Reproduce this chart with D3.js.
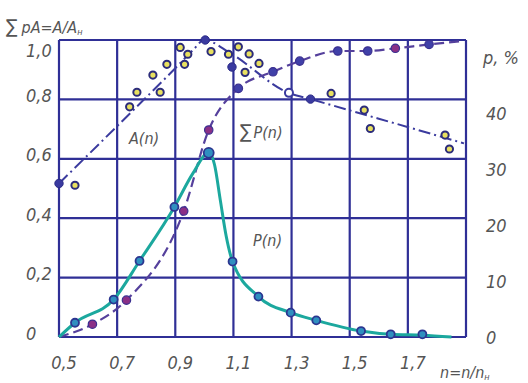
<!DOCTYPE html>
<html><head><meta charset="utf-8">
<script src="https://cdn.jsdelivr.net/npm/d3@7"></script>
<style>
body{margin:0;background:#fff;}
text{font-family:"DejaVu Sans Condensed","DejaVu Sans",sans-serif;font-style:italic;fill:#555;}
</style></head>
<body><svg id="c" width="528" height="383"></svg>
<script>
// ---- data ----
const xTicks = [0.5, 0.7, 0.9, 1.1, 1.3, 1.5, 1.7];
const yTicks = [0, 0.2, 0.4, 0.6, 0.8, 1.0];
const rTicks = [0, 10, 20, 30, 40];

// P(n), percent (right axis)
const pX = [0.555, 0.688, 0.777, 0.897, 1.015, 1.097, 1.186, 1.297, 1.385, 1.539, 1.641, 1.75];
const pY = [2.4, 6.3, 12.8, 21.9, 31.0, 12.7, 6.8, 4.1, 2.8, 1.0, 0.45, 0.45];
// P(n) fitted curve
const pCurveX = [0.5, 0.555, 0.688, 0.777, 0.897, 0.96, 1.015, 1.035, 1.055, 1.075, 1.097, 1.186, 1.297, 1.385, 1.539, 1.641, 1.75, 1.85];
const pCurveY = [0, 2.4, 6.3, 12.8, 21.9, 27.5, 31.0, 29.0, 23.0, 17.0, 12.7, 6.8, 4.1, 2.8, 1.0, 0.45, 0.3, 0];

// ΣP(n), fraction (left axis)
const sX = [0.615, 0.732, 0.929, 1.015, 1.117, 1.236, 1.328, 1.459, 1.562, 1.657, 1.773];
const sY = [0.043, 0.124, 0.424, 0.697, 0.837, 0.893, 0.929, 0.963, 0.963, 0.972, 0.985];
const sLineX = [0.5, 0.615, 0.732, 0.929, 1.015, 1.117, 1.236, 1.328, 1.459, 1.562, 1.657, 1.773, 1.893];
const sLineY = [0, 0.043, 0.124, 0.424, 0.697, 0.837, 0.893, 0.929, 0.963, 0.963, 0.972, 0.985, 0.997];

// A(n): experimental points (open circles)
const aX = [0.555, 0.743, 0.768, 0.823, 0.848, 0.871, 0.917, 0.943, 0.932, 1.023, 1.083, 1.117, 1.154, 1.188, 1.140, 1.436, 1.550, 1.571, 1.828, 1.843];
const aY = [0.511, 0.775, 0.824, 0.882, 0.824, 0.918, 0.975, 0.952, 0.918, 0.961, 0.952, 0.977, 0.953, 0.921, 0.891, 0.820, 0.764, 0.702, 0.680, 0.633];
// A(n): filled points
const aFX = [0.5, 1.003, 1.095, 1.365];
const aFY = [0.517, 1.0, 0.909, 0.801];
// A(n) fitted line
const aLineX = [0.5, 0.7, 0.9, 0.96, 1.0, 1.09, 1.29, 1.365, 1.6, 1.893];
const aLineY = [0.517, 0.71, 0.905, 0.965, 1.0, 0.955, 0.822, 0.801, 0.735, 0.652];
const aOpenX = [1.291];
const aOpenY = [0.822];

// ---- drawing ----
const svg = d3.select("#c");
const x = d3.scaleLinear([0.5, 1.9], [59, 466]);
const y = d3.scaleLinear([0, 1], [337, 40]);
const yR = d3.scaleLinear([0, 50], [337, 40]);
const yRLabel = d3.scaleLinear([0, 50], [337, 57]);
const gridC = "#2f2f96";
const fmt = v => d3.format(".1f")(v).replace(".", ",");

// grid
const g = svg.append("g");
g.selectAll("line.v").data(xTicks.concat([1.9])).join("line")
  .attr("x1", d => x(d)).attr("x2", d => x(d)).attr("y1", y(1)).attr("y2", y(0))
  .attr("stroke", gridC).attr("stroke-width", 2.2);
g.selectAll("line.h").data(yTicks).join("line")
  .attr("x1", x(0.5)).attr("x2", x(1.9)).attr("y1", d => y(d)).attr("y2", d => y(d))
  .attr("stroke", gridC).attr("stroke-width", 2.2);

// axis labels
svg.selectAll("text.xl").data(xTicks).join("text")
  .attr("x", d => x(d) + 5).attr("y", 362).attr("text-anchor", "middle")
  .attr("dominant-baseline", "central").attr("font-size", 18)
  .text(d => fmt(d));
svg.selectAll("text.yl").data(yTicks).join("text")
  .attr("x", 26).attr("y", d => Math.max(y(d) - 4, 50)).attr("text-anchor", "start")
  .attr("dominant-baseline", "central").attr("font-size", 18)
  .text(d => d === 0 ? "0" : fmt(d));
svg.selectAll("text.rl").data(rTicks).join("text")
  .attr("x", 486).attr("y", d => yRLabel(d)).attr("text-anchor", "start")
  .attr("dominant-baseline", "central").attr("font-size", 18)
  .text(d => d);
svg.append("text").attr("x", 483).attr("y", yRLabel(50)).attr("dominant-baseline", "central")
  .attr("font-size", 18).text("р, %");

// titles
const t = svg.append("text").attr("x", 6).attr("y", 33).attr("font-size", 16);
t.append("tspan").attr("font-style", "normal").attr("font-size", 19).text("∑");
t.append("tspan").attr("dx", 4).text("pA=A/A");
t.append("tspan").attr("font-size", 9).attr("dy", 2).text("н");

const xt = svg.append("text").attr("x", 440).attr("y", 378).attr("font-size", 16);
xt.append("tspan").text("n=n/n");
xt.append("tspan").attr("font-size", 9).attr("dy", 2).text("н");

svg.append("text").attr("x", 129).attr("y", 144).attr("font-size", 16).text("A(n)");
const sp = svg.append("text").attr("x", 240).attr("y", 138).attr("font-size", 16);
sp.append("tspan").attr("font-style", "normal").attr("font-size", 19).text("∑");
sp.append("tspan").attr("dx", 2).text("P(n)");
svg.append("text").attr("x", 253).attr("y", 246).attr("font-size", 16).text("P(n)");

// A(n) line
const lineL = d3.line().x(d => x(d[0])).y(d => y(d[1])).curve(d3.curveMonotoneX);
svg.append("path").datum(d3.zip(aLineX, aLineY)).attr("d", lineL)
  .attr("fill", "none").attr("stroke", "#3b3b9e").attr("stroke-width", 2)
  .attr("stroke-dasharray", "12,4,2,4");

// ΣP line
svg.append("path").datum(d3.zip(sLineX, sLineY)).attr("d", lineL)
  .attr("fill", "none").attr("stroke", "#55409c").attr("stroke-width", 2.2)
  .attr("stroke-dasharray", "10,5");

// P curve
const lineR = d3.line().x(d => x(d[0])).y(d => yR(d[1])).curve(d3.curveMonotoneX);
svg.append("path").datum(d3.zip(pCurveX, pCurveY)).attr("d", lineR)
  .attr("fill", "none").attr("stroke", "#1ca89e").attr("stroke-width", 3);

// markers
svg.selectAll("circle.a").data(d3.zip(aX, aY)).join("circle")
  .attr("cx", d => x(d[0])).attr("cy", d => y(d[1])).attr("r", 3.6)
  .attr("fill", "#e8e060").attr("stroke", "#2c2c7a").attr("stroke-width", 2);
svg.selectAll("circle.ao").data(d3.zip(aOpenX, aOpenY)).join("circle")
  .attr("cx", d => x(d[0])).attr("cy", d => y(d[1])).attr("r", 4)
  .attr("fill", "#fff").attr("stroke", "#3b3b9e").attr("stroke-width", 2);
svg.selectAll("circle.af").data(d3.zip(aFX, aFY)).join("circle")
  .attr("cx", d => x(d[0])).attr("cy", d => y(d[1])).attr("r", 4.2)
  .attr("fill", "#3a3aa0").attr("stroke", "#2c2c88").attr("stroke-width", 1);
svg.selectAll("circle.s").data(d3.zip(sX, sY)).join("circle")
  .attr("cx", d => x(d[0])).attr("cy", d => y(d[1])).attr("r", 4.2)
  .attr("fill", (d, i) => (i < 4 || i === 9) ? "#8a2f86" : "#4040a8")
  .attr("stroke", "#3a2f90").attr("stroke-width", 1.2);
svg.selectAll("circle.p").data(d3.zip(pX, pY)).join("circle")
  .attr("cx", d => x(d[0])).attr("cy", d => yR(d[1])).attr("r", (d, i) => i === 4 ? 5 : 4)
  .attr("fill", "#2f8fc0").attr("stroke", "#2c3690").attr("stroke-width", 1.8);
</script></body></html>
